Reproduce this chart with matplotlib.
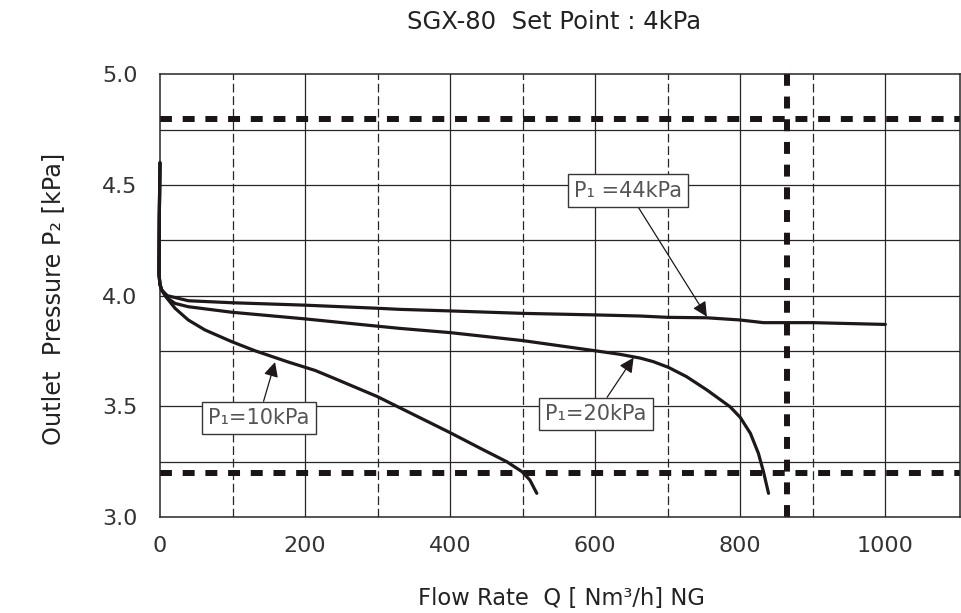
import matplotlib
matplotlib.use("Agg")
import matplotlib.pyplot as plt

plt.rcParams['font.family'] = ['DejaVu Sans']

# ---- data ----
x_p44 = [0, -1, -1.5, 0, 2.3, 10, 39, 99, 200, 300, 331, 400, 500, 600, 662, 700, 754, 800, 832, 900, 1000]
y_p44 = [4.60, 4.35, 4.10, 4.05, 4.026, 4.0, 3.977, 3.968, 3.957, 3.943, 3.938, 3.931, 3.92, 3.913, 3.908, 3.902, 3.90, 3.89, 3.878, 3.878, 3.870]

x_p20 = [0, -1, -1.5, 0, 2.3, 10, 20.7, 39, 99, 200, 300, 331, 400, 500, 600, 634, 662, 680, 701, 726, 754, 786, 800, 814, 825, 832, 839]
y_p20 = [4.60, 4.35, 4.10, 4.05, 4.026, 3.99, 3.965, 3.95, 3.925, 3.895, 3.862, 3.852, 3.833, 3.797, 3.751, 3.735, 3.718, 3.702, 3.676, 3.634, 3.574, 3.498, 3.45, 3.378, 3.288, 3.205, 3.107]

x_p10 = [0, -1, -1.5, 0, 2.3, 6.9, 20.7, 39, 62, 99, 131, 177, 214, 239, 299, 331, 400, 446, 478, 499, 510, 519.5]
y_p10 = [4.60, 4.35, 4.10, 4.05, 4.026, 4.0, 3.943, 3.89, 3.845, 3.792, 3.751, 3.70, 3.662, 3.628, 3.545, 3.493, 3.381, 3.303, 3.25, 3.205, 3.167, 3.107]

limit_y = [4.8, 3.2]
limit_x = [865]

x_ticks = [0, 200, 400, 600, 800, 1000]
x_tick_labels = ['0', '200', '400', '600', '800', '1000']
y_ticks = [3.0, 3.5, 4.0, 4.5, 5.0]
y_tick_labels = ['3.0', '3.5', '4.0', '4.5', '5.0']
x_solid_grid = [200, 400, 600, 800, 1000]
x_dashed_grid = [100, 300, 500, 700, 900]
y_solid_grid = [3.25, 3.5, 3.75, 4.0, 4.25, 4.5, 4.75]

labels = ['P\u2081 =44kPa', 'P\u2081=20kPa', 'P\u2081=10kPa']
label_text_pos = [(645, 4.475), (601, 3.465), (136, 3.447)]
label_arrow_tip = [(754, 3.905), (653, 3.72), (158.6, 3.70)]

# ---- figure ----
fig = plt.figure(figsize=(9.62, 6.13), dpi=100)
ax = fig.add_axes([160/962, 1-517/613, 800/962, (517-74.3)/613])
ax.set_xlim(0, 1103)
ax.set_ylim(3.0, 5.0)

gc = '#2a2424'
for xv in x_solid_grid:
    ax.axvline(xv, color=gc, lw=0.9, zorder=1)
for xv in x_dashed_grid:
    ax.axvline(xv, color=gc, lw=0.9, ls=(0, (7, 3)), zorder=1)
for yv in y_solid_grid:
    ax.axhline(yv, color=gc, lw=0.9, zorder=1)

for yv in limit_y:
    ax.axhline(yv, color='#1a1414', lw=4.3, ls=(0, (2.0, 1.8)), zorder=2)
for xv in limit_x:
    ax.axvline(xv, color='#1a1414', lw=4.3, ls=(0, (2.0, 1.8)), zorder=2)

lc = '#1e1818'
for xs, ys in [(x_p44, y_p44), (x_p20, y_p20), (x_p10, y_p10)]:
    ax.plot(xs, ys, color=lc, lw=2.3, solid_capstyle='round', solid_joinstyle='round',
            zorder=3, clip_on=False)

for txt, tp, tip in zip(labels, label_text_pos, label_arrow_tip):
    ax.annotate(txt, xy=tip, xytext=tp, ha='center', va='center',
                fontsize=15, color='#555555',
                bbox=dict(boxstyle='square,pad=0.3', fc='white', ec='#3a3434', lw=1.0),
                arrowprops=dict(arrowstyle='-|>', color='#1e1818', lw=0.9,
                                mutation_scale=22, shrinkA=0, shrinkB=0),
                zorder=5)

ax.set_xticks(x_ticks)
ax.set_xticklabels(x_tick_labels)
ax.set_yticks(y_ticks)
ax.set_yticklabels(y_tick_labels)
ax.tick_params(axis='both', length=0, labelsize=16, colors='#333333')
ax.tick_params(axis='x', pad=14)
ax.tick_params(axis='y', pad=16)
for s in ax.spines.values():
    s.set_color(gc)
    s.set_linewidth(1.1)

fig.text(0.576, 1-22/613, 'SGX-80  Set Point : 4kPa', ha='center', va='center',
         fontsize=17.5, color='#222222')
fig.text(0.5837, 0.024, 'Flow Rate  Q [ Nm\u00b3/h] NG', ha='center', va='center',
         fontsize=16.3, color='#222222')
fig.text(0.055, 0.512, 'Outlet  Pressure P\u2082 [kPa]', ha='center', va='center',
         rotation=90, fontsize=17.3, color='#222222')

fig.savefig('out.png', dpi=100)
